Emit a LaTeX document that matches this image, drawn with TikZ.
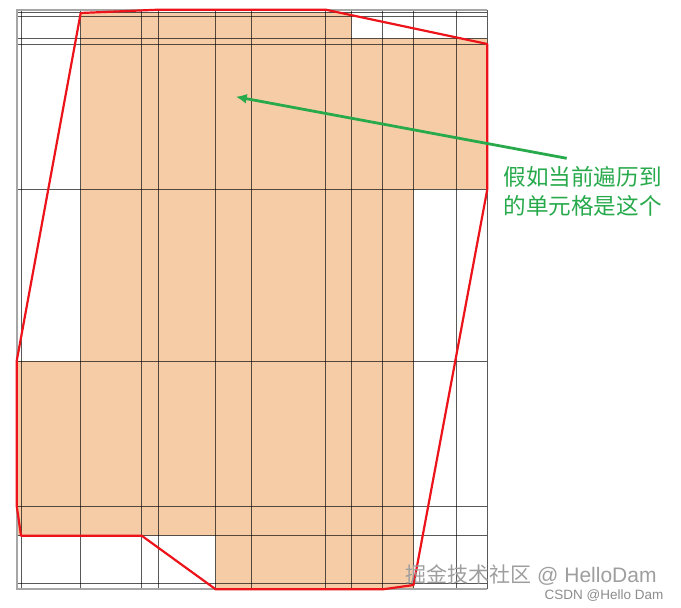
\documentclass[tikz,border=0pt]{standalone}
\usepackage{fontspec}
\setmainfont{Liberation Sans}
\newfontfamily\cjk{Noto Sans CJK SC}
\usetikzlibrary{arrows.meta}
\definecolor{peach}{RGB}{246,204,166}
\definecolor{polyred}{RGB}{236,20,26}
\definecolor{arrowgreen}{RGB}{40,170,76}
\begin{document}
\begin{tikzpicture}[x=1pt,y=-1pt,
  gridline/.style={draw=black, draw opacity=0.65, line width=0.7pt},
  border/.style={draw=black!35, line width=1.8pt},
  hull/.style={draw=polyred, line width=2.2pt, line join=round},
  pointer/.style={draw=arrowgreen, line width=2.8pt, -{Latex[length=11pt,width=10pt]}},
  note/.style={text=arrowgreen, font=\cjk\fontsize{22.6}{28.4}\selectfont, align=left, inner sep=0pt},
  mark1/.style={text=black!38, font=\fontsize{21}{24}\selectfont, inner sep=0pt},
  mark2/.style={text=black!45, font=\fontsize{13.5}{16}\selectfont, inner sep=0pt},
]
\useasboundingbox (0,0) rectangle (681,608);
% filled cells
\fill[peach] (80.7,12.3) -- (351.7,12.3) -- (351.7,38.3) -- (487.3,38.3) -- (487.3,189.3)
  -- (413.7,189.3) -- (413.7,589) -- (215.7,589) -- (215.7,535.7) -- (16.7,535.7)
  -- (16.7,361) -- (80.7,361) -- cycle;
% grid
\foreach \x in {21.3,80.7,141.7,158.3,215.7,251.7,325.7,351.7,382.3,413.7,456.7,487.3}
  \draw[gridline] (\x,9.7) -- (\x,589);
\foreach \y in {12.3,16.7,38.3,44,189.3,361,506,535.7,583.3}
  \draw[gridline] (16.7,\y) -- (487.3,\y);
% outer border
\draw[border] (487.3,9.7) -- (16.7,9.7) -- (16.7,589) -- (487.3,589);
% red hull
\draw[hull] (80.7,13) -- (158.3,9.7) -- (325.7,9.7) -- (487.3,44) -- (487.3,189.3)
  -- (413.5,585) -- (383,589.3) -- (215.7,589.3) -- (141.7,535.7) -- (21,535.7)
  -- (16.7,505.7) -- (16.7,361) -- cycle;
% annotation
\coordinate (tail) at (566.7,158.3);
\coordinate (cell) at (235.7,96.7);
\draw[pointer] (tail) -- (cell);
\node[note] (label) at (582.5,191.5) {假如当前遍历到\\的单元格是这个};
% watermarks
\node[mark1] (wm1) at (531,575.5) {{\cjk 掘金技术社区} @ HelloDam};
\node[mark2] (wm2) at (604,595.5) {CSDN @Hello Dam};
\end{tikzpicture}
\end{document}
